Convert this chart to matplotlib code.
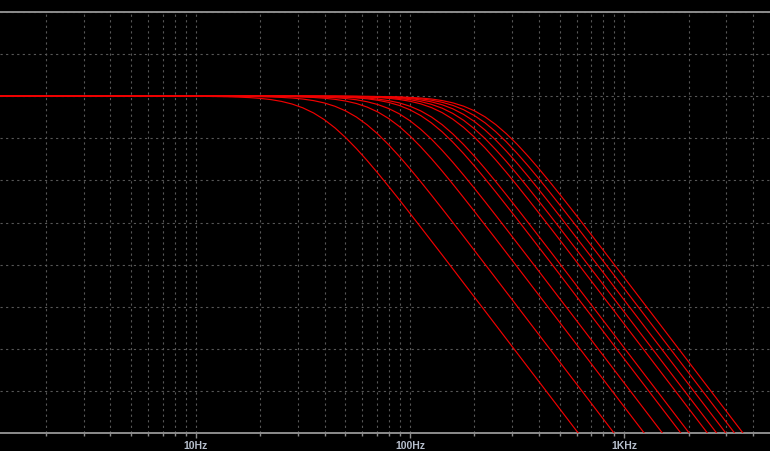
import numpy as np
import matplotlib
matplotlib.use("Agg")
import matplotlib.pyplot as plt
from matplotlib.ticker import FixedLocator, LogLocator, NullFormatter

# frequency grid (Hz) and gain of every stepped trace (dB)
freq_hz = [1, 10, 11.22, 12.59, 14.13, 15.85, 17.78, 19.95, 22.39, 25.12,
           28.18, 31.62, 35.48, 39.81, 44.67, 50.12, 56.23, 63.10, 70.79,
           79.43, 89.13, 100, 112.2, 125.9, 141.3, 158.5, 177.8, 199.5, 223.9,
           251.2, 281.8, 316.2, 354.8, 398.1, 446.7, 501.2, 562.3, 631.0,
           707.9, 794.3, 891.3, 1000, 5012]

trace_1 = [0, -0.02, -0.03, -0.05, -0.08, -0.13, -0.20, -0.31, -0.48, -0.74,
           -1.12, -1.66, -2.39, -3.34, -4.52, -5.91, -7.47, -9.17, -10.97,
           -12.84, -14.75, -16.70, -18.66, -20.64, -22.62, -24.61, -26.61,
           -28.60, -30.60, -32.60, -34.60, -36.60, -38.60, -40.60, -42.60,
           -44.60, -46.60, -48.60, -50.60, -52.60, -54.60, -56.60, -84.60]
trace_2 = [0, 0, -0.01, -0.01, -0.02, -0.03, -0.04, -0.07, -0.11, -0.17,
           -0.26, -0.41, -0.63, -0.96, -1.44, -2.10, -2.97, -4.08, -5.40,
           -6.91, -8.57, -10.34, -12.19, -14.09, -16.03, -17.99, -19.96,
           -21.95, -23.94, -25.93, -27.93, -29.92, -31.92, -33.92, -35.92,
           -37.92, -39.92, -41.92, -43.92, -45.92, -47.92, -49.92, -77.92]
trace_3 = [0] * 5 + [-0.01, -0.01, -0.02, -0.03, -0.05, -0.07, -0.12, -0.18,
                     -0.29, -0.45, -0.69, -1.04, -1.55, -2.25, -3.17, -4.31,
                     -5.67, -7.21, -8.89, -10.67, -12.53, -14.44, -16.38,
                     -18.35, -20.32, -22.31, -24.30, -26.29, -28.29, -30.28,
                     -32.28, -34.28, -36.28, -38.28, -40.28, -42.28, -44.28,
                     -72.28]
trace_4 = [0] * 6 + [-0.01, -0.01, -0.01, -0.02, -0.03, -0.05, -0.09, -0.14,
                     -0.21, -0.33, -0.51, -0.79, -1.19, -1.75, -2.51, -3.50,
                     -4.71, -6.12, -7.71, -9.42, -11.23, -13.10, -15.02,
                     -16.97, -18.94, -20.92, -22.90, -24.89, -26.89, -28.89,
                     -30.88, -32.88, -34.88, -36.88, -38.88, -40.88, -68.88]
trace_5 = [0] * 8 + [-0.01, -0.01, -0.02, -0.02, -0.04, -0.06, -0.10, -0.15,
                     -0.24, -0.37, -0.58, -0.88, -1.32, -1.94, -2.76, -3.81,
                     -5.08, -6.55, -8.17, -9.92, -11.75, -13.64, -15.57,
                     -17.52, -19.49, -21.47, -23.46, -25.45, -27.45, -29.45,
                     -31.44, -33.44, -35.44, -37.44, -65.44]
trace_6 = [0] * 9 + [-0.01, -0.01, -0.02, -0.03, -0.04, -0.07, -0.11, -0.17,
                     -0.26, -0.41, -0.63, -0.95, -1.43, -2.09, -2.96, -4.06,
                     -5.38, -6.88, -8.54, -10.31, -12.16, -14.06, -15.99,
                     -17.95, -19.93, -21.91, -23.90, -25.89, -27.89, -29.88,
                     -31.88, -33.88, -35.88, -63.88]
trace_7 = [0] * 10 + [-0.01, -0.01, -0.01, -0.02, -0.03, -0.05, -0.08, -0.12,
                      -0.19, -0.30, -0.47, -0.72, -1.09, -1.62, -2.34, -3.28,
                      -4.44, -5.82, -7.37, -9.07, -10.86, -12.72, -14.64,
                      -16.58, -18.54, -20.52, -22.51, -24.50, -26.49, -28.49,
                      -30.48, -32.48, -60.48]
trace_8 = [0] * 11 + [-0.01, -0.01, -0.01, -0.02, -0.03, -0.05, -0.08, -0.13,
                      -0.21, -0.32, -0.50, -0.77, -1.16, -1.71, -2.46, -3.43,
                      -4.63, -6.03, -7.61, -9.31, -11.12, -12.99, -14.91,
                      -16.85, -18.82, -20.80, -22.78, -24.78, -26.77, -28.77,
                      -30.76, -58.76]
trace_9 = [0] * 12 + [-0.01, -0.01, -0.01, -0.02, -0.04, -0.06, -0.09, -0.14,
                      -0.22, -0.34, -0.53, -0.81, -1.22, -1.80, -2.59, -3.59,
                      -4.82, -6.24, -7.84, -9.56, -11.38, -13.26, -15.18,
                      -17.13, -19.10, -21.08, -23.06, -25.05, -27.05, -29.05,
                      -57.04]
trace_10 = [0] * 13 + [-0.01, -0.01, -0.02, -0.02, -0.04, -0.06, -0.10, -0.15,
                       -0.24, -0.37, -0.57, -0.87, -1.31, -1.92, -2.75, -3.79,
                       -5.06, -6.52, -8.14, -9.88, -11.71, -13.60, -15.53,
                       -17.48, -19.45, -21.43, -23.42, -25.41, -27.41, -55.40]
trace_11 = [0] * 14 + [-0.01, -0.01, -0.02, -0.03, -0.04, -0.07, -0.10, -0.17,
                       -0.26, -0.40, -0.62, -0.95, -1.42, -2.07, -2.94, -4.04,
                       -5.35, -6.85, -8.51, -10.27, -12.12, -14.02, -15.95,
                       -17.91, -19.89, -21.87, -23.86, -25.85, -53.84]

traces = [trace_1, trace_2, trace_3, trace_4, trace_5, trace_6, trace_7,
          trace_8, trace_9, trace_10, trace_11]

tick_freqs = [10, 100, 1000]
tick_labels = ["10Hz", "100Hz", "1KHz"]

BG = "black"
GRID = "#575757"
AXIS = "#8c8c8c"
LABEL = "#b7bfcc"
TRACE = "#f00000"

fig = plt.figure(figsize=(7.7, 4.52), dpi=100, facecolor=BG)
ax = fig.add_axes([0, 18 / 452, 1, 421 / 452], facecolor=BG)

for tr in traces:
    ax.plot(freq_hz, tr, color=TRACE, lw=0.85, zorder=3)

ax.set_xscale("log")
ax.set_xlim(1.22, 4790)
ax.set_ylim(-48, 12)

ax.xaxis.set_major_locator(FixedLocator(tick_freqs))
ax.set_xticklabels(tick_labels)
ax.xaxis.set_minor_locator(LogLocator(base=10, subs=np.arange(2, 10)))
ax.xaxis.set_minor_formatter(NullFormatter())
ax.set_yticks(np.arange(-48, 13, 6))

dash = dict(color=GRID, lw=0.8, ls=(0, (2, 3)))
ax.grid(True, which="both", axis="x", **dash)
ax.grid(True, which="major", axis="y", **dash)

for side in ["left", "right"]:
    ax.spines[side].set_visible(False)
for side in ["top", "bottom"]:
    ax.spines[side].set_color(AXIS)
    ax.spines[side].set_linewidth(1.4)

ax.tick_params(axis="y", length=0, labelleft=False)
ax.tick_params(axis="x", which="major", direction="out", length=3.6, width=1,
               color=AXIS, pad=1.5, labelsize=7.5, labelcolor=LABEL)
ax.tick_params(axis="x", which="minor", direction="out", length=2.2, width=1,
               color=AXIS)
for lab in ax.get_xticklabels():
    lab.set_fontfamily("Liberation Sans")
    lab.set_fontweight("bold")

fig.savefig("out.png", dpi=100, facecolor=BG)
